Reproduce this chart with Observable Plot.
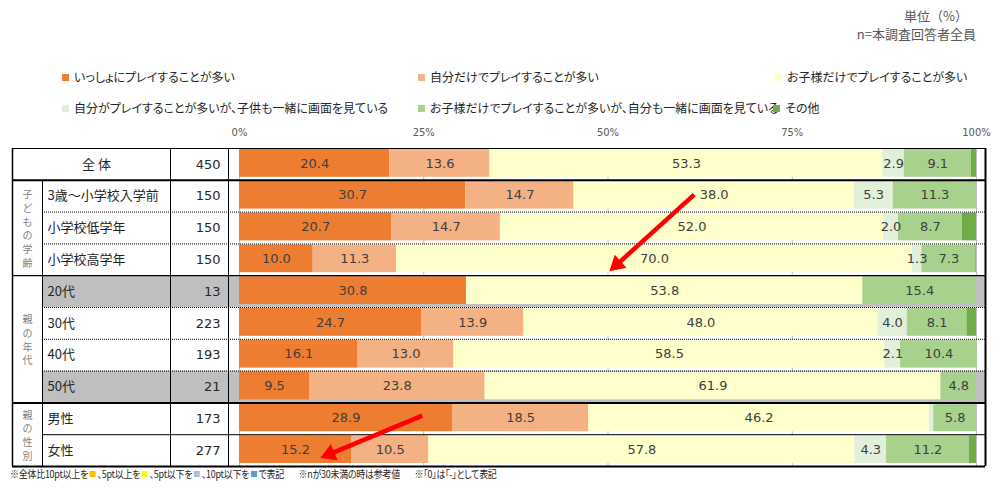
<!DOCTYPE html>
<html><head><meta charset="utf-8">
<script src="https://cdn.jsdelivr.net/npm/d3@7"></script>
<script src="https://cdn.jsdelivr.net/npm/@observablehq/plot@0.6"></script>
<style>
body{margin:0;background:#fff;font-family:"Noto Sans CJK JP",sans-serif;}
#wrap{position:relative;width:996px;height:491px;overflow:hidden;background:#fff;}
.abs{position:absolute;white-space:nowrap;line-height:16px;}
.lg{font-size:12px;color:#262626;font-feature-settings:"palt";}
.sw{display:inline-block;width:7px;height:7px;margin-right:5px;vertical-align:1px;}
.fn{font-size:10.5px;color:#262626;font-feature-settings:"palt";letter-spacing:-0.3px;transform:scaleX(0.855);transform-origin:left center;}
.fn .gap{display:inline-block;width:17px;}
.fs{display:inline-block;width:7px;height:6px;margin:0 2px;vertical-align:1px;}
#chart{position:absolute;left:0;top:118px;}
</style></head>
<body><div id="wrap">
<div class="abs" style="right:28px;top:8px;font-size:13px;color:#595959;">単位（%）</div>
<div class="abs" style="right:20px;top:26px;font-size:13px;color:#595959;">n=本調査回答者全員</div>
<div id="legend"></div>
<div class="abs" style="left:50px;top:123px;font-size:12px;color:#262626;">（単位：%）</div>
<div class="abs" style="left:195px;top:132px;font-size:13px;color:#262626;font-family:'DejaVu Sans';">n</div>
<div id="chart"></div>
<div class="abs fn" style="left:10px;top:466px;">※全体比10pt以上を<span class="fs" style="background:#FFC000"></span>、5pt以上を<span class="fs" style="background:#FFFF00"></span>、5pt以下を<span class="fs" style="background:#9DC3E6"></span>、10pt以下を<span class="fs" style="background:#5B9BD5"></span>で表記<span class="gap"></span>※nが30未満の時は参考値<span class="gap"></span>※「0」は「-」として表記</div>
</div>
<script>
// ---- data ----
const rowLabels = ["全 体","3歳～小学校入学前","小学校低学年","小学校高学年","20代","30代","40代","50代","男性","女性"];
const nValues = [450,150,150,150,13,223,193,21,173,277];
const seriesNames = [
  "いっしょにプレイすることが多い",
  "自分だけでプレイすることが多い",
  "お子様だけでプレイすることが多い",
  "自分がプレイすることが多いが、子供も一緒に画面を見ている",
  "お子様だけでプレイすることが多いが、自分も一緒に画面を見ている",
  "その他"
];
const together   = [20.4,30.7,20.7,10.0,30.8,24.7,16.1,9.5,28.9,15.2];
const selfOnly   = [13.6,14.7,14.7,11.3,0,13.9,13.0,23.8,18.5,10.5];
const childOnly  = [53.3,38.0,52.0,70.0,53.8,48.0,58.5,61.9,46.2,57.8];
const selfWatch  = [2.9,5.3,2.0,1.3,0,4.0,2.1,0,0.6,4.3];
const childWatch = [9.1,11.3,8.7,7.3,15.4,8.1,10.4,4.8,5.8,11.2];
const other      = [0.7,0,1.9,0.1,0,1.3,0,0,0,1.0];
const groupLabels = ["子どもの学齢","親の年代","親の性別"];
const groupSpans = [[1,4],[4,8],[8,10]];
const grayRows = [4,7];
const xTicks = [0,25,50,75,100];
// annotation arrows (value space: x in %, y in row units)
const arrowX1 = [61.7, 24.8], arrowY1 = [1.45, 8.4];
const arrowX2 = [50.3, 11.1], arrowY2 = [3.84, 9.72];

const colors = ["#ED7D31","#F4B183","#FFFFCC","#E2EFDA","#A9D18E","#70AD47"];
const seriesValues = [together,selfOnly,childOnly,selfWatch,childWatch,other];

// ---- legend ----
const legendPos = [[62,69],[418,69],[775,69],[62,100],[418,100],[773,100]];
const lg = document.getElementById("legend");
seriesNames.forEach((name,k)=>{
  const d = document.createElement("div");
  d.className = "abs lg";
  d.style.left = legendPos[k][0]+"px"; d.style.top = legendPos[k][1]+"px";
  d.innerHTML = `<span class="sw" style="background:${colors[k]}"></span>${name}`;
  lg.appendChild(d);
});

// ---- tidy data ----
const rows = rowLabels.map((label,i)=>({i,label,n:nValues[i]}));
const segs = [];
rows.forEach((r,i)=>{
  let acc = 0;
  seriesValues.forEach((vals,k)=>{
    const v = vals[i];
    segs.push({i,k,name:seriesNames[k],value:v,x1:acc,x2:acc+v});
    acc += v;
  });
});

const W = 996, H = 350, ML = 239, MR = 20, MT = 30, MB = 2;
const kx = (W-ML-MR)/100, ky = (H-MT-MB)/10; // px per unit (for arrow head orientation)
const headBack = 9; // px from tip to triangle centroid
const arrows = arrowX1.map((x,j)=>{
  const dxp = (arrowX2[j]-x)*kx, dyp = (arrowY2[j]-arrowY1[j])*ky;
  const len = Math.hypot(dxp,dyp), ux = dxp/len, uy = dyp/len;
  return {
    x1:x, y1:arrowY1[j],
    cx: arrowX2[j] - ux*headBack/kx, cy: arrowY2[j] - uy*headBack/ky,
    rot: Math.atan2(ux, -uy)*180/Math.PI
  };
});
const px = p => p - ML; // pixel offset relative to 0%
const CJK = "Noto Sans CJK JP";

const chart = Plot.plot({
  width: W, height: H,
  marginLeft: ML, marginRight: MR, marginTop: MT, marginBottom: MB,
  x: {domain:[0,100]},
  y: {domain:[0,10], reverse:true, axis:null},
  color: {domain: seriesNames, range: colors},
  style: {fontFamily: CJK, color:"#595959", background:"#fff", overflow:"visible"},
  marks: [
    Plot.rect(grayRows, {x1:0, x2:100, y1:d=>d, y2:d=>d+1, fill:"#BFBFBF", insetLeft:-(ML-42), insetRight:-9}),
    Plot.gridX(xTicks, {stroke:"#BFBFBF", strokeOpacity:1}),
    Plot.rectX(segs.filter(d=>d.value>0), {x1:"x1", x2:"x2", y1:d=>d.i, y2:d=>d.i+1, fill:"name", insetTop:1, insetBottom:3}),
    Plot.text(segs.filter(d=>d.k<5 && d.value>=1), {x:d=>(d.x1+d.x2)/2, y:d=>d.i+0.47, text:d=>d.value.toFixed(1), fill:"#404040", fontSize:13, fontFamily:"DejaVu Sans"}),
    // table text
    Plot.text(rows.slice(0,1), {x:0, y:d=>d.i+0.5, text:"label", dx:px(96), fontSize:13, fill:"#262626"}),
    Plot.text(rows.slice(1), {x:0, y:d=>d.i+0.5, text:"label", textAnchor:"start", dx:px(47), fontSize:13, fill:"#262626"}),
    Plot.text(rows, {x:0, y:d=>d.i+0.5, text:d=>String(d.n), textAnchor:"end", dx:px(220), fontSize:13, fill:"#262626", fontFamily:"DejaVu Sans"}),
    Plot.text(groupLabels, {x:0, y:(d,j)=>(groupSpans[j][0]+groupSpans[j][1])/2, text:d=>[...d].join("\n"), lineHeight:1.37, dx:px(27), fontSize:10, fill:"#7F7F7F"}),
    // horizontal lines
    Plot.ruleY([2,3,5,6,7], {y:d=>d, stroke:"#000", strokeWidth:1, strokeDasharray:"1,1", insetLeft:-(ML-42), insetRight:-9}),
    Plot.ruleY([9], {y:d=>d, stroke:"#000", strokeWidth:1, insetLeft:-(ML-42), insetRight:-9}),
    Plot.ruleY([0,4], {y:d=>d, stroke:"#000", strokeWidth:1.2, insetLeft:-(ML-12), insetRight:-9}),
    Plot.ruleY([1,8,10], {y:d=>d, stroke:"#000", strokeWidth:2, insetLeft:-(ML-12), insetRight:-9}),
    // vertical lines
    Plot.ruleX([0], {x:d=>d, y1:0, y2:10, dx:px(12), stroke:"#000", strokeWidth:1.5}),
    Plot.ruleX([0], {x:d=>d, y1:1, y2:10, dx:px(42), stroke:"#000", strokeWidth:1}),
    Plot.ruleX([0], {x:d=>d, y1:0, y2:10, dx:px(170), stroke:"#000", strokeWidth:1}),
    Plot.ruleX([0], {x:d=>d, y1:0, y2:10, dx:px(228), stroke:"#000", strokeWidth:1}),
    Plot.ruleX([100], {x:d=>d, y1:0, y2:10, dx:9, stroke:"#000", strokeWidth:2}),
    Plot.axisX({anchor:"top", ticks:xTicks, tickFormat:d=>d+"%", tickSize:0, tickPadding:13, fontSize:10, fontFamily:"DejaVu Sans", label:null}),
    // red annotation arrows
    Plot.link(arrows, {x1:"x1", y1:"y1", x2:"cx", y2:"cy", stroke:"#FF0000", strokeWidth:4.5}),
    Plot.dot(arrows, {x:"cx", y:"cy", symbol:"triangle", r:6.5, rotate:"rot", fill:"#FF0000", stroke:"none"})
  ]
});
document.getElementById("chart").appendChild(chart);
</script>
</body></html>
